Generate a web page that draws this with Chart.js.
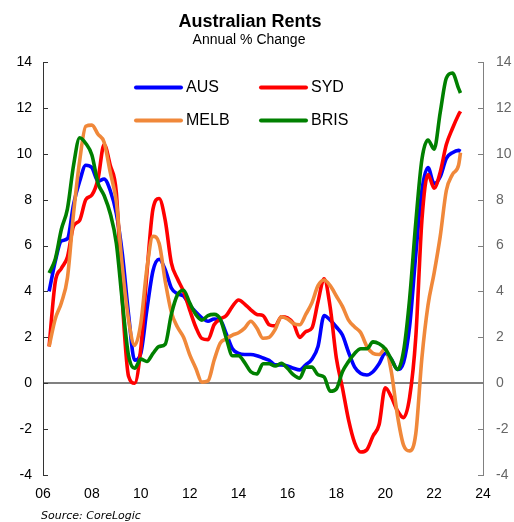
<!DOCTYPE html>
<html>
<head>
<meta charset="utf-8">
<script src="https://cdn.jsdelivr.net/npm/chart.js@4.4.1/dist/chart.umd.min.js"></script>
<style>
html,body{margin:0;padding:0;background:#fff;}
#wrap{position:relative;width:514px;height:522px;}
canvas{display:block;}
</style>
</head>
<body>
<div id="wrap"><canvas id="c" width="514" height="522"></canvas></div>
<script>
// ---- data ----
const dates = [2006.25, 2006.5, 2006.75, 2007, 2007.25, 2007.5, 2007.75, 2008, 2008.25, 2008.5, 2008.75, 2009,
  2009.25, 2009.5, 2009.75, 2010, 2010.25, 2010.5, 2010.75, 2011, 2011.25, 2011.5, 2011.75, 2012,
  2012.25, 2012.5, 2012.75, 2013, 2013.25, 2013.5, 2013.75, 2014, 2014.25, 2014.5, 2014.75, 2015,
  2015.25, 2015.5, 2015.75, 2016, 2016.25, 2016.5, 2016.75, 2017, 2017.25, 2017.5, 2017.75, 2018,
  2018.25, 2018.5, 2018.75, 2019, 2019.25, 2019.5, 2019.75, 2020, 2020.25, 2020.5, 2020.75, 2021,
  2021.25, 2021.5, 2021.75, 2022, 2022.25, 2022.5, 2022.75, 2023, 2023.08];

const aus = [4.0, 5.3, 6.2, 6.3, 7.8, 8.8, 9.5, 9.4, 8.8, 8.9, 8.4, 7.4,
  5.6, 3.0, 1.0, 1.3, 3.2, 4.9, 5.4, 4.95, 4.15, 3.9, 3.8, 3.4,
  3.1, 2.85, 2.7, 2.8, 2.75, 2.15, 1.5, 1.3, 1.25, 1.25, 1.2, 1.1,
  1.0, 0.8, 0.8, 0.75, 0.65, 0.58, 0.8, 1.05, 1.6, 2.95, 2.75, 2.45,
  2.1, 1.35, 0.7, 0.42, 0.36, 0.5, 0.85, 1.3, 1.05, 0.6, 0.9, 2.5,
  5.6, 8.4, 9.4, 8.7, 9.0, 9.8, 10.05, 10.15, 10.1];

const syd = [1.6, 4.4, 5.0, 5.5, 6.85, 7.1, 8.0, 8.2, 8.9, 10.4, 9.5, 8.3,
  3.5, 0.3, 0.0, 1.5, 4.8, 7.6, 8.05, 7.1, 5.25, 4.55, 4.0, 3.2,
  2.45, 1.95, 1.9, 2.55, 2.8, 2.95, 3.35, 3.63, 3.45, 3.2, 3.0, 2.95,
  2.55, 2.5, 2.9, 2.85, 2.6, 2.0, 2.25, 2.4, 3.55, 4.55, 3.3, 1.1,
  -0.2, -1.6, -2.6, -3.0, -2.9, -2.3, -1.8, -0.2, -0.6, -1.2, -1.5, -0.6,
  2.0, 7.1, 9.1, 8.5, 9.2, 10.4, 11.1, 11.7, 11.85];

const melb = [1.6, 2.8, 3.5, 4.6, 7.4, 9.7, 11.2, 11.25, 10.85, 10.5, 9.2, 7.9,
  5.0, 2.76, 1.65, 2.6, 5.0, 6.4, 6.1, 4.45, 3.1, 2.45, 2.0, 1.25,
  0.65, 0.05, 0.1, 1.0, 1.75, 1.93, 2.1, 2.2, 2.4, 2.7, 2.4, 1.96,
  2.0, 2.35, 2.9, 2.8, 2.6, 2.55, 3.0, 3.5, 4.25, 4.5, 4.25, 3.8,
  3.35, 2.75, 2.45, 2.2, 1.6, 1.3, 1.25, 1.5, 0.5, -1.4, -2.7, -2.95,
  -2.2, 1.1, 3.4, 4.8, 6.4, 8.4, 9.1, 9.5, 10.05];

const bris = [4.8, 5.4, 6.7, 7.6, 9.5, 10.7, 10.45, 9.95, 8.72, 8.18, 7.4, 6.1,
  3.5, 1.2, 0.65, 1.05, 0.95, 1.3, 1.6, 1.7, 3.0, 3.85, 4.05, 3.5,
  3.0, 2.75, 2.95, 3.0, 2.8, 1.95, 1.2, 1.2, 0.9, 0.5, 0.4, 0.85,
  0.85, 0.75, 0.87, 0.65, 0.36, 0.22, 0.7, 0.7, 0.37, 0.27, -0.35, -0.25,
  0.5, 0.95, 1.3, 1.5, 1.5, 1.8, 1.72, 1.5, 1.05, 0.6, 1.4, 3.7,
  7.0, 9.75, 10.6, 10.2, 11.8, 13.3, 13.52, 12.85, 12.65];

const seriesNames = ['AUS', 'SYD', 'MELB', 'BRIS'];
const seriesColors = ['#0000ff', '#ff0000', '#f0883a', '#008000'];
const xTicks = [2006, 2008, 2010, 2012, 2014, 2016, 2018, 2020, 2022, 2024];
const xTickLabels = ['06', '08', '10', '12', '14', '16', '18', '20', '22', '24'];
const yTicks = [-4, -2, 0, 2, 4, 6, 8, 10, 12, 14];

const FONT = "'Liberation Sans', Arial, Helvetica, sans-serif";

function pts(vals) { return dates.map((d, i) => ({x: d, y: vals[i]})); }
const allVals = [aus, syd, melb, bris];

const datasets = allVals.map((v, i) => ({
  label: seriesNames[i],
  data: pts(v),
  borderColor: seriesColors[i],
  backgroundColor: seriesColors[i],
  borderWidth: 3.6,
  pointRadius: 0,
  cubicInterpolationMode: 'monotone',
  fill: false,
  order: 4 - i
}));

function setTicks(values) {
  return function (scale) { scale.ticks = values.map(v => ({value: v})); };
}

const decor = {
  id: 'decor',
  beforeDatasetsDraw(chart) {
    const ctx = chart.ctx, a = chart.chartArea;
    const yl = chart.scales.y;
    ctx.save();
    ctx.lineWidth = 1;
    yTicks.forEach(v => {
      const p = Math.round(yl.getPixelForValue(v)) + 0.5;
      ctx.strokeStyle = '#333333';
      ctx.beginPath(); ctx.moveTo(a.left, p); ctx.lineTo(a.left + 5, p); ctx.stroke();
      ctx.strokeStyle = '#808080';
      ctx.beginPath(); ctx.moveTo(a.right - 5, p); ctx.lineTo(a.right, p); ctx.stroke();
    });
    ctx.restore();
  },
  afterDraw(chart) {
    const ctx = chart.ctx;
    ctx.save();
    ctx.fillStyle = '#000';
    ctx.textAlign = 'center';
    ctx.textBaseline = 'middle';
    ctx.font = 'bold 18px ' + FONT;
    ctx.fillText('Australian Rents', 250, 22);
    ctx.font = '14px ' + FONT;
    ctx.fillText('Annual % Change', 249, 40);
    // legend
    const pos = [[135, 87.5], [260, 87.5], [135, 120.5], [260, 120.5]];
    chart.data.datasets.forEach((ds, i) => {
      const [lx, ly] = pos[i];
      ctx.strokeStyle = ds.borderColor;
      ctx.lineWidth = 4;
      ctx.lineCap = 'round';
      ctx.beginPath(); ctx.moveTo(lx + 1, ly); ctx.lineTo(lx + 46, ly); ctx.stroke();
      ctx.fillStyle = '#000';
      ctx.textAlign = 'left';
      ctx.font = '16px ' + FONT;
      ctx.fillText(ds.label, lx + 51, ly);
    });
    // source
    ctx.font = "italic 11px 'DejaVu Sans', Verdana, sans-serif";
    ctx.textAlign = 'left';
    ctx.fillStyle = '#000';
    ctx.fillText('Source: CoreLogic', 41, 516);
    ctx.restore();
  }
};

new Chart(document.getElementById('c'), {
  type: 'line',
  data: {datasets},
  plugins: [decor],
  options: {
    responsive: false,
    devicePixelRatio: 1,
    animation: false,
    layout: {padding: {top: 62, left: 0, right: 0, bottom: 0}},
    plugins: {legend: {display: false}, title: {display: false}, tooltip: {enabled: false}},
    scales: {
      x: {
        type: 'linear', min: 2006, max: 2024,
        afterBuildTicks: setTicks(xTicks),
        afterFit(s) { s.height = 47; },
        grid: {display: false, drawTicks: false},
        border: {display: false},
        ticks: {
          color: '#000', padding: 11, maxRotation: 0, autoSkip: false,
          font: {family: FONT, size: 14},
          callback: (v) => xTickLabels[xTicks.indexOf(v)]
        }
      },
      y: {
        position: 'left', min: -4, max: 14,
        afterBuildTicks: setTicks(yTicks),
        afterFit(s) { s.width = 43; },
        grid: {
          drawTicks: false,
          color: (c) => (c.tick && c.tick.value === 0) ? '#808080' : 'rgba(0,0,0,0)',
          lineWidth: (c) => (c.tick && c.tick.value === 0) ? 2 : 0
        },
        border: {display: true, color: '#333333', width: 1},
        ticks: {color: '#000', padding: 11, font: {family: FONT, size: 14}}
      },
      y2: {
        position: 'right', min: -4, max: 14,
        afterBuildTicks: setTicks(yTicks),
        afterFit(s) { s.width = 31; },
        grid: {display: false, drawTicks: false},
        border: {display: true, color: '#808080', width: 1},
        ticks: {color: '#666666', padding: 13, font: {family: FONT, size: 14}}
      }
    }
  }
});
</script>
</body>
</html>
